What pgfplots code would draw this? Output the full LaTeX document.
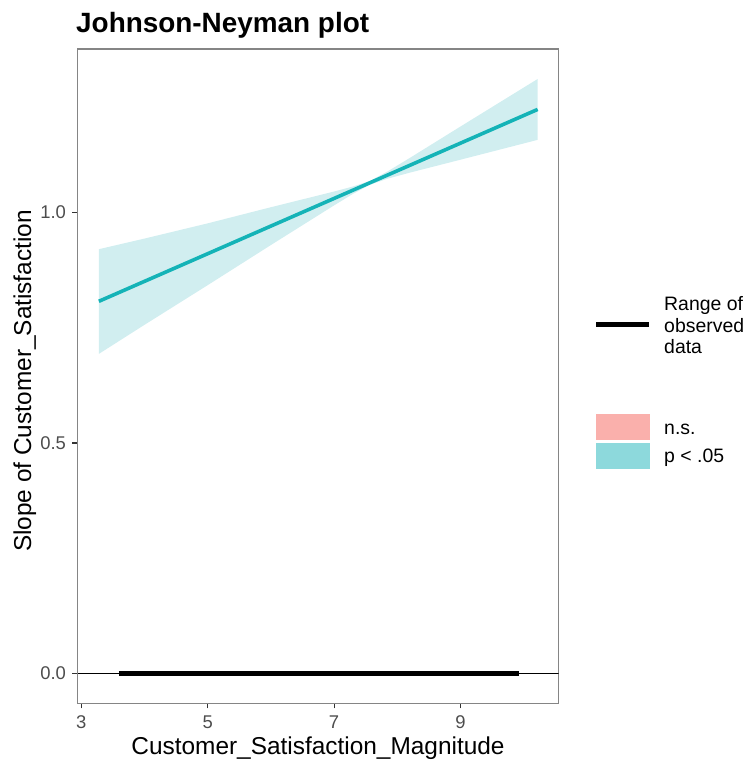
\documentclass[border=0pt]{standalone}
\usepackage{fontspec}
\setmainfont{Liberation Sans}
\usepackage{pgfplots}
\pgfplotsset{compat=1.18}
\definecolor{jnline}{HTML}{14B3B7}
\definecolor{jnband}{HTML}{D1EEF0}
\definecolor{jnpink}{HTML}{FAB0AC}
\definecolor{jnteal}{HTML}{8DD9DC}
\definecolor{ticklab}{HTML}{4D4D4D}
\definecolor{tickcol}{HTML}{333333}
\definecolor{jnframe}{HTML}{858585}
\begin{document}
\begin{tikzpicture}
\begin{axis}[
  at={(77.5bp,57.7bp)}, anchor=south west,
  scale only axis, width=481bp, height=654.3bp,
  xmin=2.94, xmax=10.55, ymin=-0.0645, ymax=1.354,
  xtick={3,5,7,9}, ytick={0,0.5,1},
  yticklabel style={/pgf/number format/fixed,/pgf/number format/fixed zerofill,/pgf/number format/precision=1, anchor=east, xshift=-3bp},
  /pgf/number format/assume math mode=true,
  tick align=outside,
  major tick length=5bp,
  xtick pos=lower, ytick pos=lower,
  xtick style={color=tickcol, line width=1.2bp},
  ytick style={color=tickcol, line width=1.2bp},
  axis line style={jnframe, line width=1.2bp},
  ticklabel style={font=\fontsize{18.5}{20}\selectfont, text=ticklab},
  xticklabel style={anchor=base, yshift=-20bp},
]
% confidence band (upper left->right, lower right->left)
\addplot[fill=jnband, draw=none] table {
x y
3.278 0.920
4 0.943
5 0.976
6 1.011
7 1.045
7.3 1.056
7.57 1.068
7.85 1.089
8.2 1.118
9 1.186
10.22 1.289
10.22 1.157
9 1.114
8.2 1.086
7.85 1.073
7.57 1.060
7.3 1.040
7 1.015
6 0.929
5 0.842
4 0.756
3.278 0.693
} -- cycle;
% zero line
\addplot[black, line width=1.3bp] coordinates {(2.94,0) (10.55,0)};
% range of observed data
\addplot[black, line width=5bp] coordinates {(3.593,0) (9.92,0)};
% conditional slope
\addplot[jnline, line width=3.6bp] coordinates {(3.278,0.807) (10.22,1.223)};
\end{axis}
\useasboundingbox (0,0) rectangle (750bp,761bp);
\node[anchor=base west, font=\fontsize{28}{30}\selectfont\bfseries, inner sep=0] at (76bp,728bp) {Johnson-Neyman plot};
\node[anchor=base, font=\fontsize{24.5}{26}\selectfont, inner sep=0] at (318bp,7bp) {Customer\_Satisfaction\_Magnitude};
\node[anchor=base, rotate=90, font=\fontsize{24.5}{26}\selectfont, inner sep=0] at (31bp,380bp) {Slope of Customer\_Satisfaction};
% legend
\draw[black, line width=5bp] (596bp,436bp) -- (649bp,436bp);
\begin{scope}[every node/.style={anchor=base west, inner sep=0, font=\fontsize{19.5}{21}\selectfont}]
\node at (664bp,450bp) {Range of};
\node at (664bp,428bp) {observed};
\node at (664bp,407bp) {data};
\fill[jnpink] (596bp,321bp) rectangle (650bp,347bp);
\fill[jnteal] (596bp,292bp) rectangle (650bp,318bp);
\node at (664bp,326bp) {n.s.};
\node at (664bp,298bp) {p < .05};
\end{scope}
\end{tikzpicture}
\end{document}
